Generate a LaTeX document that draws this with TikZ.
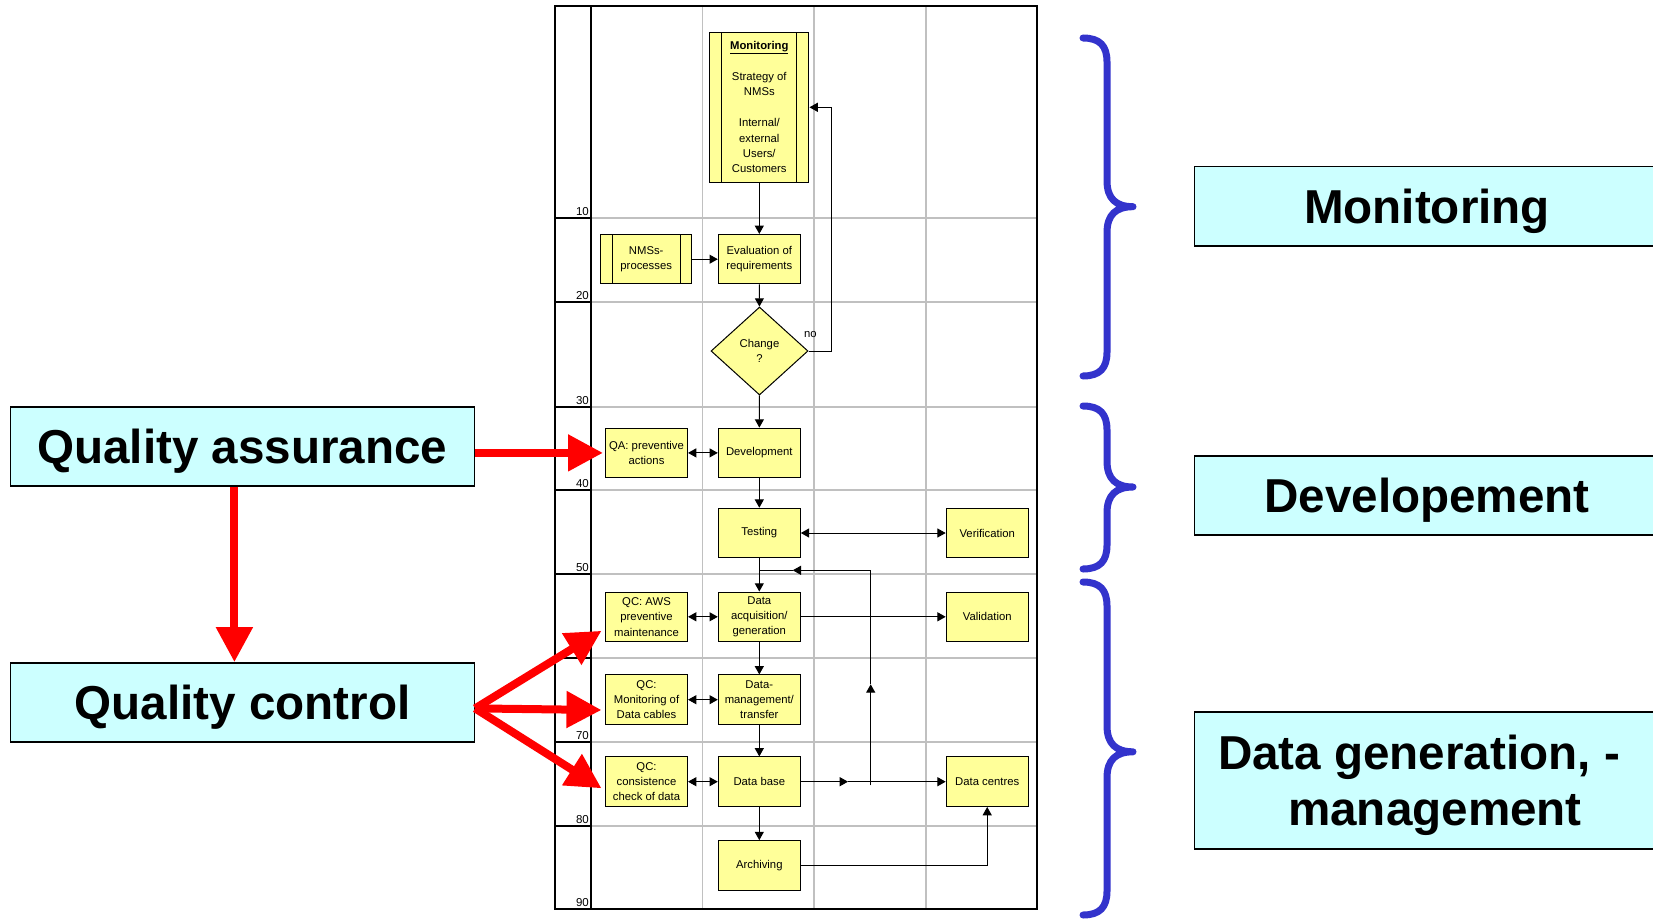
\documentclass[tikz,border=0pt]{standalone}
\usepackage{fontspec}
\setmainfont{Liberation Sans}
\usetikzlibrary{arrows.meta,shapes.geometric}
\definecolor{procyellow}{HTML}{FFFF99}
\definecolor{bannercyan}{HTML}{CCFFFF}
\definecolor{braceblue}{HTML}{3333CC}
\definecolor{gridgray}{HTML}{C0C0C0}
\newcommand{\FlowFont}{\fontsize{11.3}{15.4}\selectfont}
\newcommand{\BannerFont}{\fontsize{47.6}{56}\selectfont\bfseries}
% curly brace: top, tip, bottom
\newcommand{\LaneBrace}[3]{%
  \draw[brace] (1083,#1) .. controls (1100,#1) and (1107,{#1+8}) .. (1107,{#1+24})
    -- (1107,{#2-26}) .. controls (1107,{#2-8}) and (1116,#2) .. (1133,#2)
    .. controls (1116,#2) and (1107,{#2+8}) .. (1107,{#2+26})
    -- (1107,{#3-24}) .. controls (1107,{#3-8}) and (1100,#3) .. (1083,#3);}

\begin{document}
\begin{tikzpicture}[x=1pt, y=-1pt, >={Triangle[length=8.3pt,width=9pt]},
    proc/.style={draw=black, line width=1pt, fill=procyellow, minimum width=82pt,
                 minimum height=49.5pt, inner sep=1pt, align=center, font=\FlowFont},
    subproc/.style={proc, path picture={
        \draw[line width=1pt] ([xshift=#1]path picture bounding box.north west) -- ([xshift=#1]path picture bounding box.south west);
        \draw[line width=1pt] ([xshift=-#1]path picture bounding box.north east) -- ([xshift=-#1]path picture bounding box.south east);}},
    decision/.style={diamond, draw=black, line width=1pt, fill=procyellow, minimum width=97pt,
                     minimum height=88pt, inner sep=0pt, align=center, font=\FlowFont},
    flow/.style={line width=1pt, ->},
    twoway/.style={line width=1pt, <->},
    banner/.style={draw=black, line width=1.5pt, fill=bannercyan, minimum width=464pt,
                   minimum height=79pt, text depth=0pt, align=center, font=\BannerFont},
    qarrow/.style={red, line width=8pt, -{Triangle[length=35pt,width=35pt]}},
    brace/.style={draw=braceblue, line width=7pt, line cap=round, line join=round},
    gridline/.style={draw=gridgray, line width=1.3pt},
    frame/.style={line width=2pt},
    rownum/.style={anchor=south east, inner sep=0pt, font=\fontsize{11.5}{12}\selectfont}]
    \useasboundingbox (0,0) rectangle (1653,920);

    % draw table grid
    \foreach \x in {702.3,814,926}
        \draw[gridline] (\x,6.5) -- (\x,909);
    \foreach \y in {218,302,407,490,574,658,742,826}
        \draw[gridline] (590.7,\y) -- (1036.5,\y);
    \foreach \y in {218,302,407,490,574,658,742,826}
        \draw[frame] (554.5,\y) -- (590.7,\y);
    \foreach \y/\n in {218/10,302/20,407/30,490/40,574/50,742/70,826/80,909/90}
        \node[rownum] (row\n) at (589,{\y-2.5}) {\n};
    \draw[frame] (554.5,6.5) rectangle (1036.5,909);
    \draw[frame] (590.7,6.5) -- (590.7,909);

    % draw flow chart boxes
    \node[subproc=12pt, minimum width=99.3pt, minimum height=150pt] (mon) at (759.3,107.3)
        {\underline{\textbf{Monitoring}}\\[15.4pt]Strategy of\\NMSs\\[15.4pt]Internal/\\external\\Users/\\Customers};
    \node[subproc=11.3pt, minimum width=91pt] (nmsp) at (646.2,259.2) {NMSs-\\processes};
    \node[proc] (eval) at (759.3,259.2) {Evaluation of\\requirements};
    \node[decision] (chg) at (759.5,351) {Change\\?};
    \node[font=\FlowFont, anchor=base, inner sep=0pt] (nolbl) at (810.3,337.2) {no};
    \node[proc] (qa) at (646.5,452.9) {QA: preventive\\actions};
    \node[proc] (dev) at (759.3,452.9) {Development};
    \node[proc] (tst) at (759.3,533) {Testing};
    \node[proc] (ver) at (987.2,533) {Verification};
    \node[proc] (qcaws) at (646.5,616.8) {QC: AWS\\preventive\\maintenance};
    \node[proc] (acq) at (759.3,616.8) {Data\\acquisition/\\generation};
    \node[proc] (val) at (987.2,616.8) {Validation};
    \node[proc] (qcmon) at (646.5,699.7) {QC:\\Monitoring of\\Data cables};
    \node[proc] (mgt) at (759.3,699.7) {Data-\\management/\\transfer};
    \node[proc] (qccon) at (646.5,781.7) {QC:\\consistence\\check of data};
    \node[proc] (db) at (759.3,781.7) {Data base};
    \node[proc] (dc) at (987.2,781.7) {Data centres};
    \node[proc] (arc) at (759.3,865.4) {Archiving};

    % draw connectors
    \draw[flow] (mon) -- (eval);
    \draw[flow] (nmsp) -- (eval);
    \draw[flow] (eval) -- (chg);
    \draw[flow] (chg) -- (dev);
    \draw[flow] (chg.east) -- ++(23,0) |- (mon.east);
    \draw[twoway] (qa) -- (dev);
    \draw[flow] (dev) -- (tst);
    \draw[twoway] (tst) -- (ver);
    \draw[flow] (tst) -- (acq);
    \draw[twoway] (qcaws) -- (acq);
    \draw[flow] (acq) -- (val);
    \draw[flow] (acq) -- (mgt);
    \draw[twoway] (qcmon) -- (mgt);
    \draw[flow] (mgt) -- (db);
    \draw[twoway] (qccon) -- (db);
    \draw[flow] (db) -- (arc);
    \coordinate (dbmid) at (848,781.7);
    \draw[flow] (db.east) -- (dbmid);
    \draw[flow] (dbmid) -- (dc.west);
    \draw[flow] (arc.east) -| (dc.south);
    % feedback loop to data acquisition
    \coordinate (lpA) at (870.7,785.3);
    \coordinate (lpB) at (870.7,684.3);
    \coordinate (lpC) at (870.7,570.3);
    \coordinate (lpD) at (792.7,570.3);
    \coordinate (lpE) at (759.3,570.3);
    \draw[flow] (lpA) -- (lpB);
    \draw[flow] (lpB) -- (lpC) -- (lpD);
    \draw[line width=1pt] (lpD) -- (lpE);

    % quality boxes and red arrows
    \node[banner] (qabig) at (242.4,446.5) {Quality assurance};
    \node[banner] (qcbig) at (242.4,702.4) {Quality control};
    \draw[qarrow] (qabig.east |- qa.west) -- ([xshift=-2pt]qa.west);
    \draw[qarrow] ([xshift=-8pt]qabig.south) -- ([xshift=-8pt]qcbig.north);
    \coordinate (qcfork) at ([yshift=-6pt]qcbig.east);
    \draw[qarrow] (qcfork) -- ([xshift=-3.5pt,yshift=-14pt]qcaws.west);
    \draw[qarrow] (qcfork) -- ([xshift=-3.5pt,yshift=-10.3pt]qcmon.west);
    \draw[qarrow] (qcfork) -- ([xshift=-3.5pt,yshift=-6.6pt]qccon.west);

    % braces and phase banners
    \LaneBrace{38}{206.7}{376}
    \LaneBrace{406}{487}{569}
    \LaneBrace{582}{751.8}{915}
    \node[banner, minimum width=465pt, minimum height=79.4pt] (monbanner) at (1427,206.2) {Monitoring};
    \node[banner, minimum width=465pt, minimum height=79.1pt] (devbanner) at (1427,495.4) {Developement};
    \node[banner, minimum width=465pt, minimum height=137pt] (databanner) at (1427,780.3)
        {Data generation, -\hspace*{16pt}\\\hspace*{16pt}management};
\end{tikzpicture}
\end{document}
